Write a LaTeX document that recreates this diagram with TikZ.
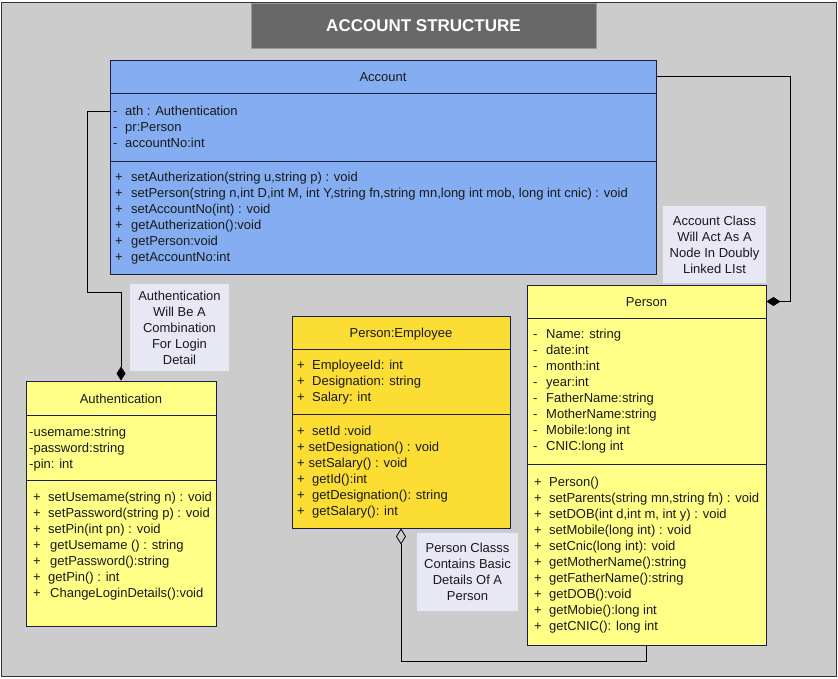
\documentclass[tikz,border=0pt]{standalone}
\usepackage{fontspec}
\setmainfont{Liberation Sans}
\usetikzlibrary{arrows.meta}
\definecolor{bgc}{RGB}{204,204,204}
\definecolor{framec}{RGB}{50,50,50}
\definecolor{titlec}{RGB}{104,104,104}
\definecolor{accblue}{RGB}{133,174,242}
\definecolor{yel}{RGB}{255,255,136}
\definecolor{gold}{RGB}{252,221,52}
\definecolor{notec}{RGB}{232,232,244}
\definecolor{edgec}{RGB}{28,32,64}
\definecolor{txtc}{RGB}{25,25,25}
\newcommand{\lr}[3]{\makebox[#1pt][l]{#2}#3}
\newcommand{\umlfont}{\fontsize{13}{16}\selectfont}
\begin{document}
\begin{tikzpicture}[x=1pt,y=-1pt,
  cbox/.style={draw=edgec, line width=0.9pt, inner sep=0, text=txtc, font=\umlfont},
  hbox/.style={cbox, text height=10.6pt, text depth=0pt},
  txt/.style={anchor=base west, inner sep=0, text=txtc, font=\umlfont},
  note/.style={fill=notec, inner sep=0, align=center, text=txtc, font=\umlfont},
  conn/.style={draw=black, line width=0.8pt},
  comp/.style={conn, -{Diamond[length=14pt,width=9pt]}},
  aggr/.style={conn, -{Diamond[open,length=16pt,width=10pt]}}]
\useasboundingbox (0,0) rectangle (838,678);
\fill[white] (0,0) rectangle (838,678);
\draw[draw=framec, fill=bgc, line width=1pt] (1.5,2) rectangle (836.5,676.5);
% title
\node[fill=titlec, draw=gray!80, line width=0.6pt, minimum width=345pt, minimum height=45pt, inner sep=0,
  text=white, font=\fontsize{17}{20}\selectfont\bfseries] (title) at (423.5,25.5) {ACCOUNT STRUCTURE};
% Account
\node[hbox, fill=accblue, minimum width=546pt, minimum height=33pt] (acchead) at (383,76.5) {Account};
\node[cbox, fill=accblue, minimum width=546pt, minimum height=68pt] (accattr) at (383,127) {};
\node[cbox, fill=accblue, minimum width=546pt, minimum height=113pt] (accmeth) at (383,217.5) {};
\node[txt] (accattrtxt) at (113,115.5) {\begin{tabular}[t]{@{}l@{}}
\lr{12}{-}{ath : Authentication}\\
\lr{12}{-}{pr:Person}\\
\lr{12}{-}{accountNo:int}
\end{tabular}};
\node[txt] (accmethtxt) at (115,181.5) {\begin{tabular}[t]{@{}l@{}}
\lr{16}{+}{setAutherization(string u,string p) : void}\\
\lr{16}{+}{setPerson(string n,int D,int M, int Y,string fn,string mn,long int mob, long int cnic) : void}\\
\lr{16}{+}{setAccountNo(int) : void}\\
\lr{16}{+}{getAutherization():void}\\
\lr{16}{+}{getPerson:void}\\
\lr{16}{+}{getAccountNo:int}
\end{tabular}};
% Authentication
\node[hbox, fill=yel, minimum width=190pt, minimum height=34pt] (authhead) at (121,398) {Authentication};
\node[cbox, fill=yel, minimum width=190pt, minimum height=65pt] (authattr) at (121,447.5) {};
\node[cbox, fill=yel, minimum width=190pt, minimum height=146pt] (authmeth) at (121,553) {};
\node[txt] (authattrtxt) at (29,436.5) {\begin{tabular}[t]{@{}l@{}}
-usemame:string\\
-password:string\\
-pin: int
\end{tabular}};
\node[txt] (authmethtxt) at (33,501.5) {\begin{tabular}[t]{@{}l@{}}
\lr{15}{+}{setUsemame(string n) : void}\\
\lr{15}{+}{setPassword(string p) : void}\\
\lr{15}{+}{setPin(int pn) : void}\\
\lr{17}{+}{getUsemame () : string}\\
\lr{17}{+}{getPassword():string}\\
\lr{15}{+}{getPin() : int}\\
\lr{17}{+}{ChangeLoginDetails():void}
\end{tabular}};
% Person:Employee
\node[hbox, fill=gold, minimum width=218pt, minimum height=33pt] (emphead) at (401,332.5) {Person:Employee};
\node[cbox, fill=gold, minimum width=218pt, minimum height=65pt] (empattr) at (401,381.5) {};
\node[cbox, fill=gold, minimum width=218pt, minimum height=114pt] (empmeth) at (401,471) {};
\node[txt] (empattrtxt) at (297,369.5) {\begin{tabular}[t]{@{}l@{}}
\lr{15}{+}{EmployeeId: int}\\
\lr{15}{+}{Designation: string}\\
\lr{15}{+}{Salary: int}
\end{tabular}};
\node[txt] (empmethtxt) at (297,435.5) {\begin{tabular}[t]{@{}l@{}}
\lr{15}{+}{setId :void}\\
\lr{11.5}{+}{setDesignation() : void}\\
\lr{11.5}{+}{setSalary() : void}\\
\lr{15}{+}{getId():int}\\
\lr{15}{+}{getDesignation(): string}\\
\lr{15}{+}{getSalary(): int}
\end{tabular}};
% Person
\node[hbox, fill=yel, minimum width=239pt, minimum height=33pt] (perhead) at (646.5,301.5) {Person};
\node[cbox, fill=yel, minimum width=239pt, minimum height=146pt] (perattr) at (646.5,391) {};
\node[cbox, fill=yel, minimum width=239pt, minimum height=181pt] (permeth) at (646.5,554.5) {};
\node[txt] (perattrtxt) at (533,338.5) {\begin{tabular}[t]{@{}l@{}}
\lr{13}{-}{Name: string}\\
\lr{13}{-}{date:int}\\
\lr{13}{-}{month:int}\\
\lr{13}{-}{year:int}\\
\lr{13}{-}{FatherName:string}\\
\lr{13}{-}{MotherName:string}\\
\lr{13}{-}{Mobile:long int}\\
\lr{13}{-}{CNIC:long int}
\end{tabular}};
\node[txt] (permethtxt) at (534,486.5) {\begin{tabular}[t]{@{}l@{}}
\lr{15}{+}{Person()}\\
\lr{15}{+}{setParents(string mn,string fn) : void}\\
\lr{15}{+}{setDOB(int d,int m, int y) : void}\\
\lr{15}{+}{setMobile(long int) : void}\\
\lr{15}{+}{setCnic(long int): void}\\
\lr{15}{+}{getMotherName():string}\\
\lr{15}{+}{getFatherName():string}\\
\lr{15}{+}{getDOB():void}\\
\lr{15}{+}{getMobie():long int}\\
\lr{15}{+}{getCNIC(): long int}
\end{tabular}};
% notes
\node[note, minimum width=99pt, minimum height=87pt] (authnote) at (179.5,327.5) {Authentication\\Will Be A\\Combination\\For Login\\Detail};
\node[note, minimum width=103pt, minimum height=77pt] (accnote) at (714.5,244.5) {Account Class\\Will Act As A\\Node In Doubly\\Linked LIst};
\node[note, minimum width=101pt, minimum height=78pt] (empnote) at (467.5,572) {Person Classs\\Contains Basic\\Details Of A\\Person};
% connectors
\coordinate (a1) at (110,111);
\coordinate (a2) at (87,111);
\coordinate (a3) at (87,292);
\coordinate (b1) at (790,76.5);
\coordinate (c1) at (646.5,661);
\draw[comp] (a1) -- (a2) -- (a3) -| (authhead.north);
\draw[comp] (acchead.east) -- (b1) |- (perhead.east);
\draw[aggr] (permeth.south) -- (c1) -| (empmeth.south);
\end{tikzpicture}
\end{document}
